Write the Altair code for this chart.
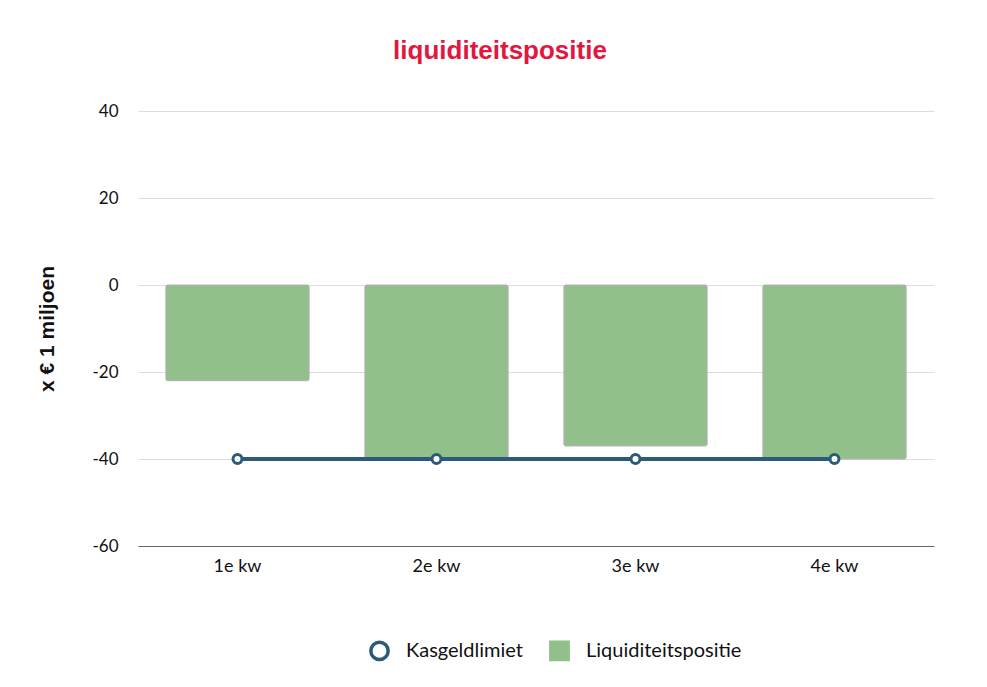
import altair as alt
import pandas as pd

quarters = ["1e kw", "2e kw", "3e kw", "4e kw"]
liquiditeitspositie = [-22, -40, -37, -40]
kasgeldlimiet = [-40, -40, -40, -40]
series_names = ["Kasgeldlimiet", "Liquiditeitspositie"]
y_ticks = [-60, -40, -20, 0, 20, 40]

bars_df = pd.DataFrame({"kwartaal": quarters, "waarde": liquiditeitspositie,
                        "reeks": [series_names[1]] * len(quarters)})
line_df = pd.DataFrame({"kwartaal": quarters, "waarde": kasgeldlimiet,
                        "reeks": [series_names[0]] * len(quarters)})

LINE_COLOR = "#2c5a78"
BAR_COLOR = "#91c08b"

x = alt.X("kwartaal:N", sort=quarters,
          scale=alt.Scale(paddingInner=0.28, paddingOuter=0.14),
          axis=alt.Axis(title=None, labelAngle=0, grid=False, ticks=False,
                        domain=True, domainColor="#666666", domainWidth=1,
                        labelPadding=11, labelFont="Lato", labelFontSize=18,
                        labelColor="#111111"))
y = alt.Y("waarde:Q",
          scale=alt.Scale(domain=[-60, 40], nice=False, zero=False),
          axis=alt.Axis(values=y_ticks, title="x € 1 miljoen", grid=True,
                        gridColor="#dcdcdc", gridWidth=1, domain=False,
                        ticks=False, labelPadding=20, labelFont="Lato",
                        labelFontSize=17, labelColor="#111111",
                        labelExpr="'' + datum.value",
                        titleFont="Liberation Sans", titleFontSize=21,
                        titleFontWeight="bold", titleColor="#111111",
                        titlePadding=34))

legend = alt.Legend(title=None, orient="none", legendX=231, legendY=529,
                    direction="horizontal", labelFont="Lato", labelFontSize=20,
                    labelColor="#111111", symbolSize=300, symbolStrokeWidth=3.5,
                    labelOffset=16, columnPadding=20)

fill = alt.Fill("reeks:N",
                scale=alt.Scale(domain=series_names, range=["#ffffff", BAR_COLOR]),
                legend=legend)
stroke = alt.Stroke("reeks:N",
                    scale=alt.Scale(domain=series_names, range=[LINE_COLOR, BAR_COLOR]),
                    legend=legend)
shape = alt.Shape("reeks:N",
                  scale=alt.Scale(domain=series_names, range=["circle", "square"]),
                  legend=legend)

bars = alt.Chart(bars_df).mark_bar(stroke="#b0b0b0", strokeWidth=1,
                                   cornerRadius=2).encode(x=x, y=y, fill=fill)
line = alt.Chart(line_df).mark_line(color=LINE_COLOR, strokeWidth=4).encode(x=x, y=y)
points = alt.Chart(line_df).mark_point(size=80, strokeWidth=3, opacity=1).encode(
    x=x, y=y, fill=fill, stroke=stroke, shape=shape)

chart = alt.layer(bars, line, points).properties(
    width=796, height=435,
    title=alt.Title("liquiditeitspositie", font="Liberation Sans", fontSize=26,
                    fontWeight="bold", color="#e3173e", anchor="middle",
                    offset=38, dx=-36),
    autosize=alt.AutoSizeParams(type="none"),
    padding={"left": 130, "top": 103, "right": 45, "bottom": 133},
).configure(background="white").configure_view(stroke=None, strokeWidth=0)

chart.save("out.html", embed_options={"renderer": "svg", "actions": False})
